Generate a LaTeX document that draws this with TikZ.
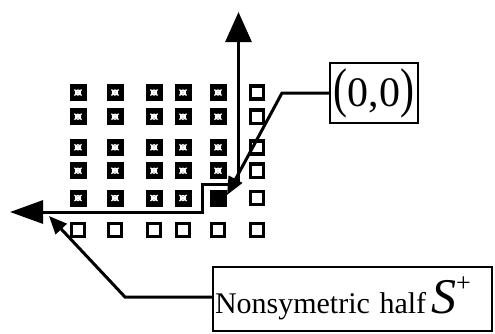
\documentclass[tikz,border=0pt]{standalone}
\usepackage{fontspec}
\setmainfont{Liberation Serif}
\usetikzlibrary{arrows.meta}
\begin{document}
\begin{tikzpicture}[x=1pt,y=-1pt,
  cellmark/.style={draw=none, fill=black, minimum size=17pt, inner sep=0pt,
    path picture={
      \draw[white, line width=1.3pt, shift={(path picture bounding box.center)}]
        (-3.6,-2.9) -- (3.6,2.9) (-3.6,2.9) -- (3.6,-2.9) (0,0) circle (2.5);
    }},
  cellsolid/.style={draw=none, fill=black, minimum size=17pt, inner sep=0pt},
  cellhollow/.style={draw=black, line width=3.6pt, fill=white, minimum size=13.2pt, inner sep=0pt},
  axisline/.style={line width=3pt, black},
  pointer/.style={line width=3pt, black, -{Triangle[length=18pt,width=15pt]}},
  labelbox/.style={draw=black, line width=2pt, fill=white, inner sep=2pt}
]
\useasboundingbox (0,0) rectangle (495,333);

% lattice: columns and rows of sample positions
\def\colx{{78,115,154,183,218,257}}
\def\rowy{{92.5,116.7,147.3,170.7,198,230}}
\foreach \i in {0,...,5}{
  \foreach \j in {0,...,5}{
    \pgfmathsetmacro{\cx}{\colx[\i]}
    \pgfmathsetmacro{\cy}{\rowy[\j]}
    \ifnum\j=5
      \node[cellhollow] (c-\i-\j) at (\cx,\cy) {};
    \else\ifnum\i=5
      \node[cellhollow] (c-\i-\j) at (\cx,\cy) {};
    \else
      \node[cellmark] (c-\i-\j) at (\cx,\cy) {};
    \fi\fi
  }
}
% the origin sample
\node[cellsolid] (origin) at (218,198) {};

% axes: vertical one up, horizontal one stepping around the origin row
\coordinate (axbase) at (238.5,184);
\coordinate (vtip) at (238.5,12);
\coordinate (stepa) at (202,184);
\coordinate (stepb) at (202,212);
\coordinate (htip) at (10,212);
\draw[axisline, -{Triangle[length=30pt,width=26pt]}] (axbase) -- (vtip);
\draw[axisline, -{Triangle[length=33pt,width=23pt]}] (axbase) -- (stepa) -- (stepb) -- (htip);

% labels
\node[labelbox, minimum width=88pt, minimum height=60pt] (zero) at (374,93)
  {\fontsize{42}{42}\selectfont\scalebox{1}[1.3]{(}0,0\scalebox{1}[1.3]{)}};
\node[labelbox, text width=275pt, align=left, minimum height=64pt] (half) at (352.5,299)
  {\raisebox{-14pt}[0pt][0pt]{\fontsize{30}{30}\selectfont Nonsymetric\hspace{0.32em}half\,{\fontsize{50}{50}\selectfont\itshape S}\raisebox{22pt}{\fontsize{26}{26}\selectfont +}}};

% pointers from the labels
\coordinate (zbend) at (282,93);
\coordinate (ztip) at (227,195);
\coordinate (hbend) at (125,297);
\coordinate (htip2) at (49,216);
\draw[pointer] (zero.west) -- (zbend) -- (ztip);
\draw[pointer] (half.west |- hbend) -- (hbend) -- (htip2);
\end{tikzpicture}
\end{document}
